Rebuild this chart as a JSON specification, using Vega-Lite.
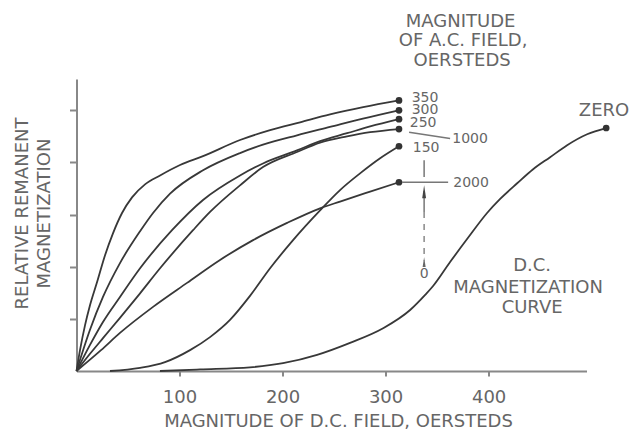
{
  "$schema": "https://vega.github.io/schema/vega-lite/v6.json",
  "width": 510,
  "height": 292,
  "autosize": {"type": "none"},
  "padding": {"left": 76.5, "top": 79, "right": 44.5, "bottom": 61},
  "background": "white",
  "config": {"view": {"stroke": null}, "font": "DejaVu Sans"},
  "datasets": {
    "curves": [
      {"s": "350", "x": 0, "y": 0}, {"s": "350", "x": 3.4, "y": 0.4}, {"s": "350", "x": 8.3, "y": 0.88}, {"s": "350", "x": 13.1, "y": 1.26}, {"s": "350", "x": 19.9, "y": 1.7}, {"s": "350", "x": 27.7, "y": 2.22}, {"s": "350", "x": 35.4, "y": 2.64}, {"s": "350", "x": 44.2, "y": 3.03}, {"s": "350", "x": 53.9, "y": 3.33}, {"s": "350", "x": 66.5, "y": 3.58}, {"s": "350", "x": 81.1, "y": 3.75}, {"s": "350", "x": 100.5, "y": 3.95}, {"s": "350", "x": 122.8, "y": 4.12}, {"s": "350", "x": 158.7, "y": 4.43}, {"s": "350", "x": 187.9, "y": 4.62}, {"s": "350", "x": 217, "y": 4.77}, {"s": "350", "x": 246.1, "y": 4.92}, {"s": "350", "x": 278.2, "y": 5.06}, {"s": "350", "x": 313, "y": 5.19},
      {"s": "300", "x": 0, "y": 0}, {"s": "300", "x": 13.1, "y": 0.79}, {"s": "300", "x": 25.7, "y": 1.42}, {"s": "300", "x": 42.2, "y": 2.07}, {"s": "300", "x": 61.7, "y": 2.68}, {"s": "300", "x": 74.3, "y": 3.03}, {"s": "300", "x": 90.8, "y": 3.4}, {"s": "300", "x": 122.8, "y": 3.85}, {"s": "300", "x": 158.7, "y": 4.18}, {"s": "300", "x": 181, "y": 4.34}, {"s": "300", "x": 214, "y": 4.52}, {"s": "300", "x": 246, "y": 4.68}, {"s": "300", "x": 278, "y": 4.84}, {"s": "300", "x": 313, "y": 5.0},
      {"s": "250", "x": 0, "y": 0}, {"s": "250", "x": 13.1, "y": 0.5}, {"s": "250", "x": 25.7, "y": 0.94}, {"s": "250", "x": 42.2, "y": 1.42}, {"s": "250", "x": 61.7, "y": 1.97}, {"s": "250", "x": 92.7, "y": 2.7}, {"s": "250", "x": 122.8, "y": 3.28}, {"s": "250", "x": 158.7, "y": 3.75}, {"s": "250", "x": 181, "y": 3.98}, {"s": "250", "x": 214, "y": 4.23}, {"s": "250", "x": 236.4, "y": 4.41}, {"s": "250", "x": 262.6, "y": 4.56}, {"s": "250", "x": 285, "y": 4.69}, {"s": "250", "x": 313, "y": 4.83},
      {"s": "1000", "x": 0, "y": 0}, {"s": "1000", "x": 13.1, "y": 0.33}, {"s": "1000", "x": 25.7, "y": 0.63}, {"s": "1000", "x": 42.2, "y": 1.02}, {"s": "1000", "x": 61.7, "y": 1.49}, {"s": "1000", "x": 81.1, "y": 1.97}, {"s": "1000", "x": 113.1, "y": 2.7}, {"s": "1000", "x": 129.6, "y": 3.05}, {"s": "1000", "x": 158.7, "y": 3.56}, {"s": "1000", "x": 181, "y": 3.91}, {"s": "1000", "x": 214, "y": 4.2}, {"s": "1000", "x": 236.4, "y": 4.38}, {"s": "1000", "x": 262.6, "y": 4.5}, {"s": "1000", "x": 285, "y": 4.58}, {"s": "1000", "x": 313, "y": 4.64},
      {"s": "2000", "x": 0, "y": 0}, {"s": "2000", "x": 23.8, "y": 0.4}, {"s": "2000", "x": 42.2, "y": 0.73}, {"s": "2000", "x": 74.3, "y": 1.23}, {"s": "2000", "x": 107.3, "y": 1.69}, {"s": "2000", "x": 139.3, "y": 2.13}, {"s": "2000", "x": 171.4, "y": 2.51}, {"s": "2000", "x": 204.4, "y": 2.84}, {"s": "2000", "x": 236.4, "y": 3.12}, {"s": "2000", "x": 255.8, "y": 3.25}, {"s": "2000", "x": 285, "y": 3.44}, {"s": "2000", "x": 313, "y": 3.62},
      {"s": "150", "x": 32.5, "y": 0}, {"s": "150", "x": 61.7, "y": 0.06}, {"s": "150", "x": 85.9, "y": 0.17}, {"s": "150", "x": 110.2, "y": 0.4}, {"s": "150", "x": 129.6, "y": 0.65}, {"s": "150", "x": 149, "y": 0.98}, {"s": "150", "x": 168.4, "y": 1.44}, {"s": "150", "x": 187.9, "y": 1.97}, {"s": "150", "x": 210.2, "y": 2.51}, {"s": "150", "x": 236.4, "y": 3.08}, {"s": "150", "x": 255.8, "y": 3.47}, {"s": "150", "x": 275.2, "y": 3.79}, {"s": "150", "x": 294.7, "y": 4.08}, {"s": "150", "x": 313, "y": 4.31},
      {"s": "ZERO", "x": 81, "y": 0}, {"s": "ZERO", "x": 119.9, "y": 0.03}, {"s": "ZERO", "x": 168.4, "y": 0.07}, {"s": "ZERO", "x": 200.5, "y": 0.15}, {"s": "ZERO", "x": 233.5, "y": 0.31}, {"s": "ZERO", "x": 265.5, "y": 0.54}, {"s": "ZERO", "x": 297.6, "y": 0.82}, {"s": "ZERO", "x": 323.8, "y": 1.17}, {"s": "ZERO", "x": 338.4, "y": 1.46}, {"s": "ZERO", "x": 346.1, "y": 1.63}, {"s": "ZERO", "x": 362.6, "y": 2.09}, {"s": "ZERO", "x": 379.1, "y": 2.53}, {"s": "ZERO", "x": 398.5, "y": 3.03}, {"s": "ZERO", "x": 411.2, "y": 3.3}, {"s": "ZERO", "x": 427.7, "y": 3.6}, {"s": "ZERO", "x": 443.2, "y": 3.87}, {"s": "ZERO", "x": 459.7, "y": 4.1}, {"s": "ZERO", "x": 476.2, "y": 4.33}, {"s": "ZERO", "x": 495.6, "y": 4.54}, {"s": "ZERO", "x": 514.1, "y": 4.66}
    ],
    "ends": [
      {"x": 313, "y": 5.19}, {"x": 313, "y": 5.0}, {"x": 313, "y": 4.83}, {"x": 313, "y": 4.64}, {"x": 313, "y": 4.31}, {"x": 313, "y": 3.62}, {"x": 514.1, "y": 4.66}
    ],
    "leaders": [
      {"x": 322.8, "y": 4.58, "x2": 362.6, "y2": 4.46},
      {"x": 316, "y": 3.62, "x2": 360.7, "y2": 3.62},
      {"x": 337.4, "y": 4.04, "x2": 337.4, "y2": 3.72},
      {"x": 337.4, "y": 3.45, "x2": 337.4, "y2": 3.05}
    ],
    "dashed": [
      {"x": 337.4, "y": 3.05, "x2": 337.4, "y2": 2.12}
    ],
    "arrowBig": [{"x": 337.4, "y": 3.44}],
    "arrowSmall": [{"x": 337.4, "y": 2.09}],
    "numbers": [
      {"t": "350", "x": 338.3, "y": 5.24},
      {"t": "300", "x": 338.3, "y": 5.0},
      {"t": "250", "x": 336.4, "y": 4.76},
      {"t": "1000", "x": 382, "y": 4.44},
      {"t": "150", "x": 339.3, "y": 4.28},
      {"t": "2000", "x": 383, "y": 3.61},
      {"t": "0", "x": 337.4, "y": 1.86}
    ],
    "labels": [
      {"t": "MAGNITUDE", "x": 372.8, "y": 6.7},
      {"t": "OF A.C. FIELD,", "x": 375.2, "y": 6.33},
      {"t": "OERSTEDS", "x": 374.3, "y": 5.94},
      {"t": "ZERO", "x": 512, "y": 4.98},
      {"t": "D.C.", "x": 442.2, "y": 2.01},
      {"t": "MAGNETIZATION", "x": 438.3, "y": 1.6},
      {"t": "CURVE", "x": 442.2, "y": 1.2}
    ]
  },
  "encoding": {
    "x": {
      "field": "x", "type": "quantitative",
      "scale": {"domain": [0, 495], "nice": false, "zero": false},
      "axis": {
        "title": "MAGNITUDE OF D.C. FIELD, OERSTEDS",
        "values": [100, 200, 300, 400],
        "grid": false,
        "tickSize": 5, "tickWidth": 2, "tickColor": "#888",
        "domainColor": "#888", "domainWidth": 2,
        "labelFontSize": 18, "labelColor": "#666", "labelPadding": 12, "labelFont": "DejaVu Sans",
        "titleFontSize": 18, "titleFontWeight": "normal", "titleColor": "#666", "titleFont": "DejaVu Sans",
        "titleX": 261.5, "titleY": 50, "titleBaseline": "middle", "titleAlign": "center"
      }
    },
    "y": {
      "field": "y", "type": "quantitative",
      "scale": {"domain": [0, 5.6], "nice": false},
      "axis": {
        "title": ["RELATIVE REMANENT", "MAGNETIZATION"],
        "values": [1, 2, 3, 4, 5],
        "labels": false,
        "grid": false,
        "tickSize": 7, "tickWidth": 2, "tickColor": "#888",
        "domainColor": "#888", "domainWidth": 2,
        "titleFontSize": 18, "titleFontWeight": "normal", "titleColor": "#666", "titleFont": "DejaVu Sans",
        "titleLineHeight": 21.5, "titleAngle": -90,
        "titleX": -54, "titleY": 134, "titleBaseline": "middle", "titleAlign": "center"
      }
    }
  },
  "layer": [
    {
      "data": {"name": "curves"},
      "mark": {"type": "line", "interpolate": "monotone", "color": "#383838", "strokeWidth": 1.8},
      "encoding": {"detail": {"field": "s"}}
    },
    {
      "data": {"name": "ends"},
      "mark": {"type": "point", "filled": true, "color": "#333", "size": 45, "opacity": 1}
    },
    {
      "data": {"name": "leaders"},
      "mark": {"type": "rule", "color": "#777", "strokeWidth": 1.5},
      "encoding": {"x2": {"field": "x2"}, "y2": {"field": "y2"}}
    },
    {
      "data": {"name": "dashed"},
      "mark": {"type": "rule", "color": "#888", "strokeWidth": 1.5, "strokeDash": [6, 6]},
      "encoding": {"x2": {"field": "x2"}, "y2": {"field": "y2"}}
    },
    {
      "data": {"name": "arrowBig"},
      "mark": {"type": "point", "filled": true, "color": "#444", "size": 169, "opacity": 1, "shape": "M0,-1L0.3,1L-0.3,1Z"}
    },
    {
      "data": {"name": "arrowSmall"},
      "mark": {"type": "point", "filled": true, "color": "#666", "size": 100, "opacity": 1, "shape": "M0,-1L0.3,1L-0.3,1Z"}
    },
    {
      "data": {"name": "numbers"},
      "mark": {"type": "text", "fontSize": 14, "color": "#666", "align": "center", "baseline": "middle", "font": "DejaVu Sans"},
      "encoding": {"text": {"field": "t"}}
    },
    {
      "data": {"name": "labels"},
      "mark": {"type": "text", "fontSize": 18, "color": "#666", "align": "center", "baseline": "middle", "font": "DejaVu Sans"},
      "encoding": {"text": {"field": "t"}}
    }
  ]
}
